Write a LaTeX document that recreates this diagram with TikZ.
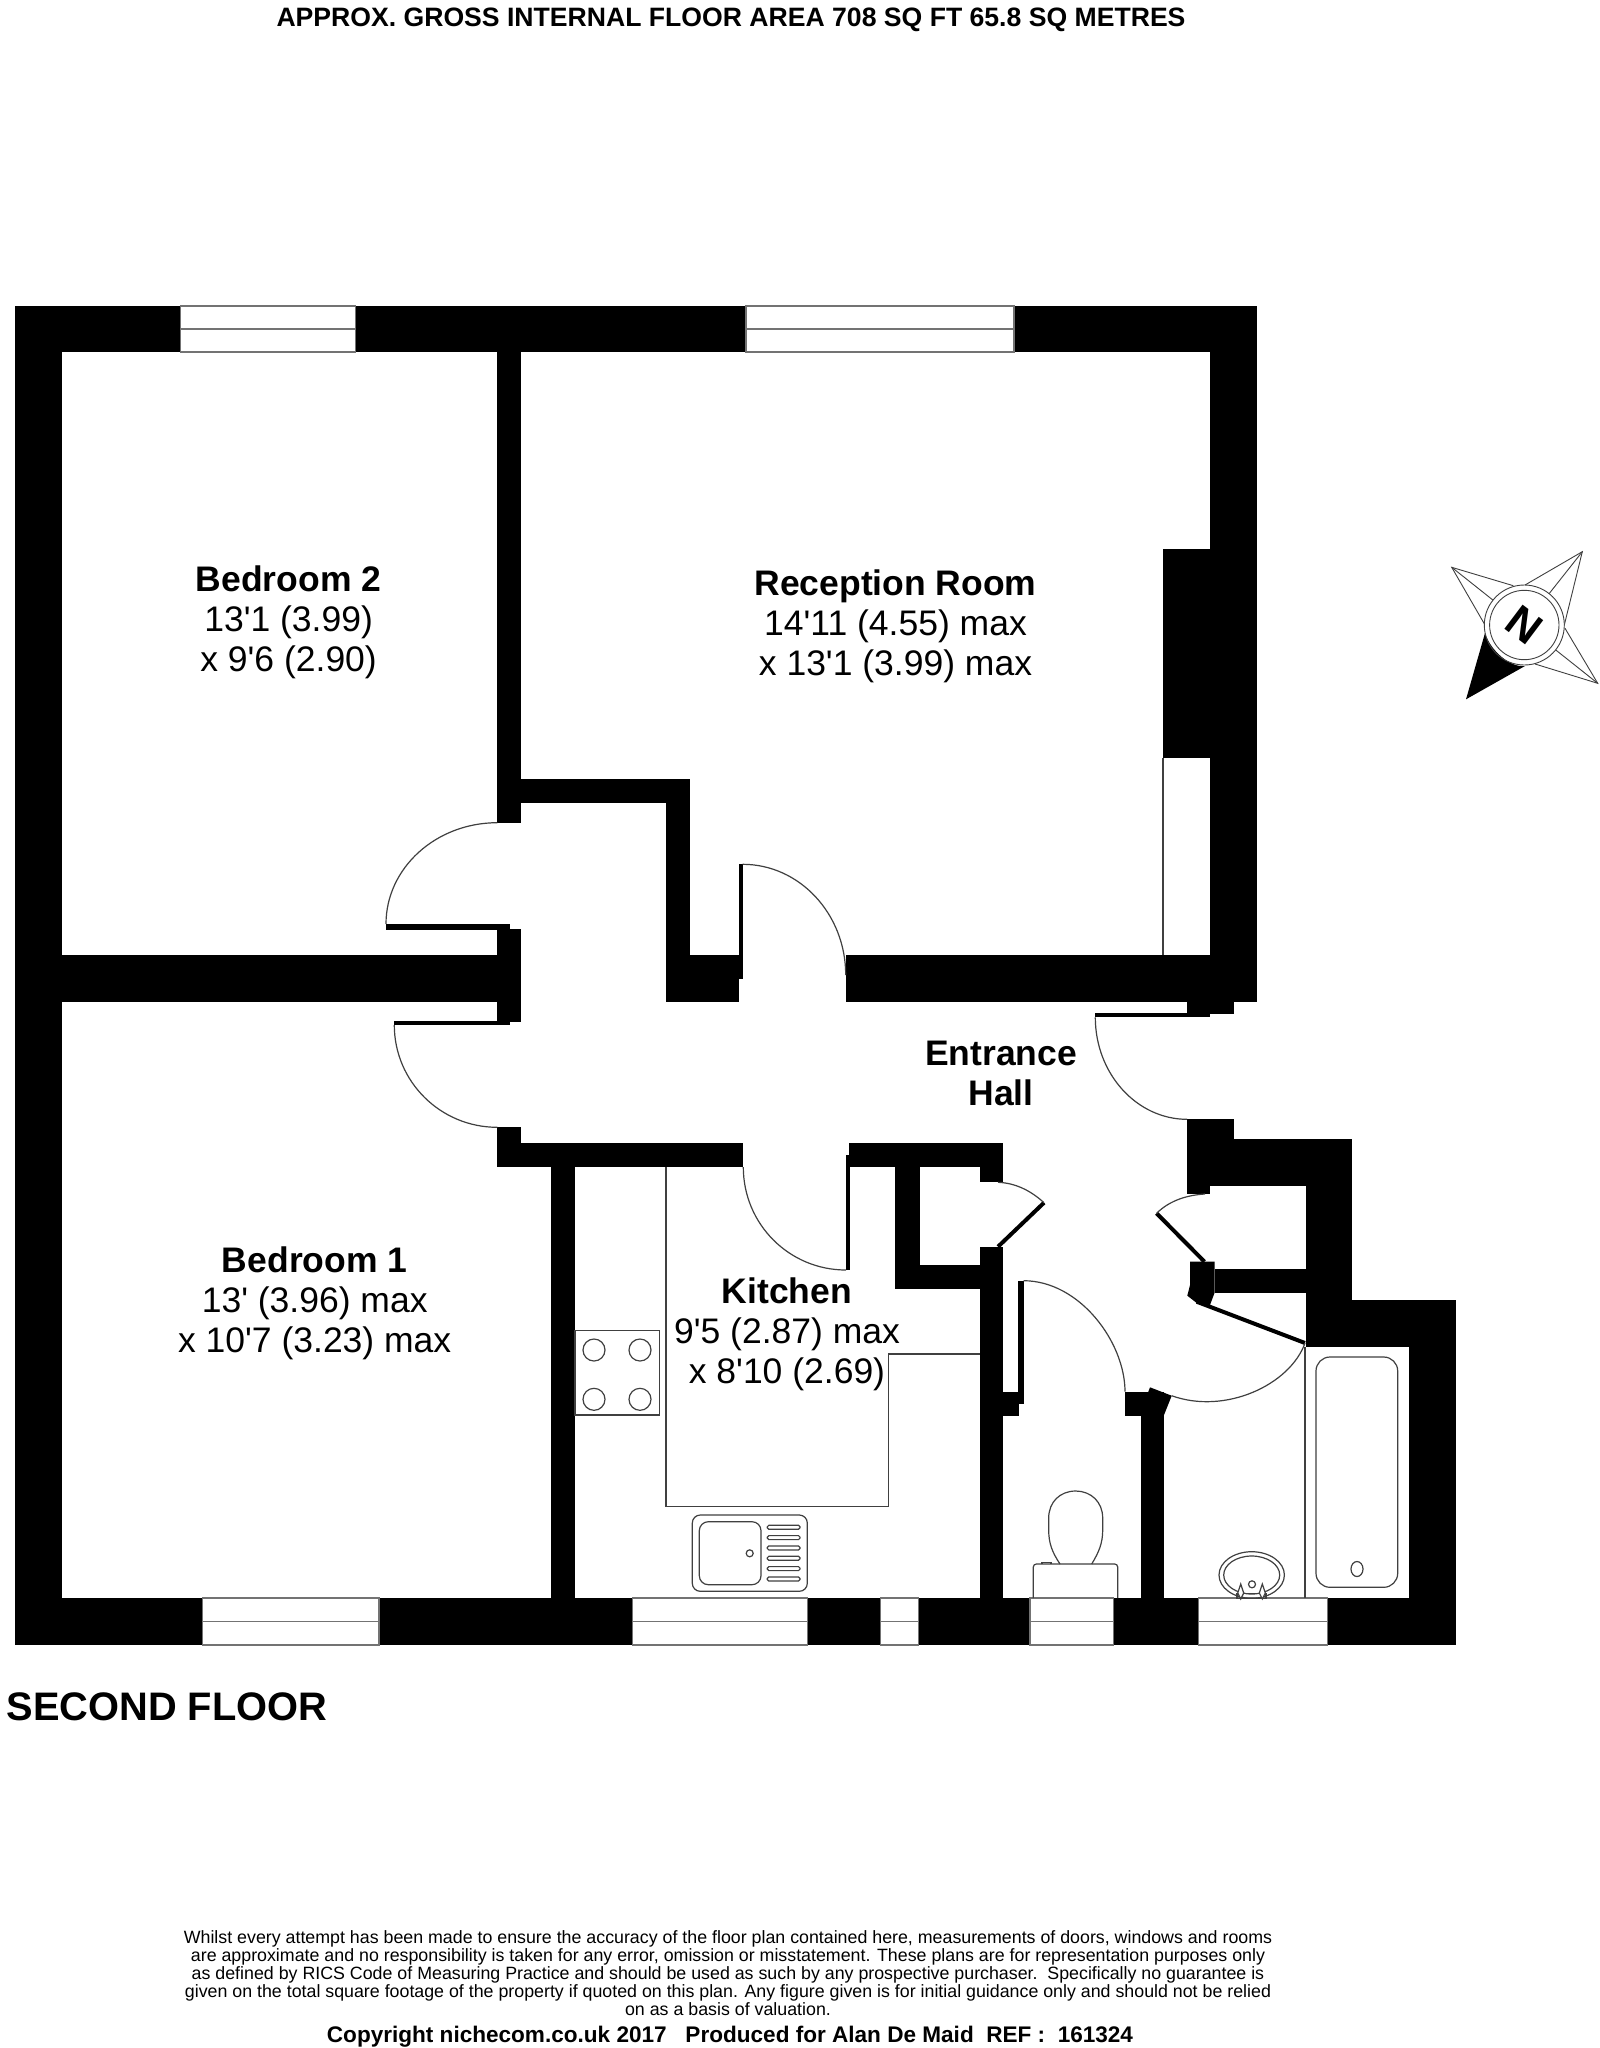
\documentclass[tikz,border=0pt]{standalone}
\usepackage{fontspec}
\setmainfont{Liberation Sans}[Ligatures=TeXOff]
\usetikzlibrary{positioning}
\tikzset{
    wall/.style={fill=black},
    thinline/.style={draw=black!75, line width=1.2pt},
    window/.style={fill=white, draw=black!55, line width=1.2pt},
    roomlabel/.style={align=center, inner sep=0pt, font=\fontsize{35.5}{40}\selectfont},
    smallprint/.style={align=center, inner sep=0pt, font=\fontsize{17.8}{17.9}\selectfont}
}

\begin{document}
\begin{tikzpicture}[x=1pt, y=-1pt]
    \useasboundingbox (0,0) rectangle (1599,2048);
    \fill[white] (0,0) rectangle (1599,2048);

    % walls
    \foreach \xa/\ya/\xb/\yb in {14.5/306/1256.6/352, 14.5/306/61.5/1645, 14.5/1598/1456/1645,
        1210/306/1256.6/1002.3, 1163/548.7/1210/758, 497.3/352/521/822.7,
        521/779.3/689.7/803.3, 665.7/779.3/689.7/1002.3, 665.7/955.3/739.3/1002.3,
        739.3/864.3/742.7/979.3, 61.5/955.3/521/1002.3, 497.3/929/521/1021.7,
        386/924/510/929.7, 394.3/1020.7/510/1025, 845.7/955.3/1210/1002.3,
        1186.9/1002/1233.6/1014, 1186.9/1002/1210.3/1017.3, 1095.3/1013/1210.3/1017.3,
        1186.9/1119.3/1233.6/1139.3, 1186.9/1119.3/1210.3/1194, 1186.9/1139.3/1352/1186,
        1305.7/1139.3/1352/1346.7, 1305.7/1300/1456/1346.7, 1409/1300/1456/1645,
        1214.5/1269.3/1305.7/1292.7,
        497.3/1127.3/521/1167.3, 497.3/1142.7/743.3/1167.3, 550.7/1142.7/575/1598,
        849/1143.3/1003.4/1167.3, 846/1155/850/1270,
        895.3/1143.3/919.5/1289.3, 895.3/1265/979.6/1289.3, 979.6/1143.3/1003.4/1182.3,
        979.6/1246.7/1003.4/1598,
        1018.3/1280.7/1023.5/1404, 1003.4/1391.7/1023.5/1404, 1003.4/1391.7/1018.5/1415.7,
        1125/1391.7/1148.3/1415.7, 1140.7/1391.7/1164/1598}
        \fill[wall] (\xa,\ya) rectangle (\xb,\yb);
    \fill[wall] (1148.3,1391.7) -- (1150,1387.3) -- (1171.7,1395.7) -- (1164,1415) -- cycle;
    \fill[wall] (1190,1261.7) -- (1214.5,1261.7) -- (1214.5,1293) -- (1210,1305) -- (1196.7,1303)
        -- (1187.3,1295.7) -- (1190,1285) -- cycle;

    % door leaves on the slant
    \draw[line width=4pt] (1196.7,1301.7) -- (1305,1343);
    \draw[line width=4pt] (998,1246.7) -- (1044,1202.7);
    \draw[line width=4pt] (1204.5,1261.7) -- (1156.6,1213.3);

    % door swings
    \draw[thinline] (386,924) .. controls (386,868) and (435.9,822.7) .. (497.3,822.7);
    \draw[thinline] (394.3,1025) .. controls (394.3,1081.5) and (440.4,1127.3) .. (497.3,1127.3);
    \draw[thinline] (742.7,864.3) .. controls (799.6,864.3) and (845.7,914) .. (845.7,975);
    \draw[thinline] (743.3,1167) .. controls (743.3,1224) and (789,1270) .. (846,1270);
    \draw[thinline] (1095.3,1017.3) .. controls (1095.3,1074) and (1137,1119.3) .. (1187,1119.3);
    \draw[thinline] (1023.5,1280.7) .. controls (1079.5,1280.7) and (1125,1342) .. (1125,1391.7);
    \draw[thinline] (1044,1202.7) .. controls (1030,1190) and (1015,1183) .. (998,1182.3);
    \draw[thinline] (1156.6,1213.3) .. controls (1170,1200) and (1188,1195) .. (1205,1194);
    \draw[thinline] (1305,1343) .. controls (1290,1385) and (1225,1415) .. (1171.7,1395.7);

    % windows
    \foreach \xa/\xb in {202.5/379, 632.3/807.3, 880.7/918.3, 1030/1113.3, 1198.3/1327.3} {
        \draw[window] (\xa,1598) rectangle (\xb,1645);
        \draw[window] (\xa,1621.3) -- (\xb,1621.3);
    }
    \foreach \xa/\xb in {180.7/355.7, 746/1014} {
        \draw[window] (\xa,306) rectangle (\xb,352);
        \draw[window] (\xa,329) -- (\xb,329);
    }
    \draw[thinline] (1163,758) -- (1163,955.3);

    % kitchen
    \draw[thinline] (666,1167.3) -- (666,1506.7) -- (888.7,1506.7) -- (888.7,1354) -- (980,1354);
    \draw[thinline] (575,1330.7) rectangle (659.3,1415);
    \foreach \cx/\cy in {594/1350, 640/1350, 594/1399.3, 640/1399.3}
        \draw[thinline] (\cx,\cy) circle (11);
    \draw[thinline, rounded corners=8pt] (692.3,1515) rectangle (807.3,1591.3);
    \draw[thinline, rounded corners=9pt] (699.3,1521.7) rectangle (761,1584.7);
    \draw[thinline] (749.7,1553.3) circle (3.5);
    \foreach \sy in {1527.3, 1537.6, 1547.9, 1558.3, 1568.6, 1579}
        \draw[thinline, rounded corners=1.5pt] (767.3,\sy-2) rectangle (800,\sy+2);

    % wc
    \draw[thinline, rounded corners=3pt] (1033.3,1598) -- (1033.3,1564) -- (1117.7,1564) -- (1117.7,1598);
    \draw[thinline] (1060,1564) .. controls (1052,1552) and (1048.7,1543) .. (1048.7,1530)
        -- (1048.7,1518) .. controls (1048.7,1502) and (1060,1491) .. (1075.7,1491)
        .. controls (1091,1491) and (1102.7,1502) .. (1102.7,1518) -- (1102.7,1530)
        .. controls (1102.7,1543) and (1099,1552) .. (1091.7,1564);
    \draw[thinline] (1042,1564) -- (1042,1562.5) -- (1051,1562.5) -- (1051,1564);

    % bath and basin
    \draw[thinline] (1305,1346.7) -- (1305,1598);
    \draw[thinline, rounded corners=14pt] (1316,1357) rectangle (1397.7,1587.3);
    \draw[thinline] (1357,1569) ellipse (6 and 7.5);
    \begin{scope}
        \clip (1200,1530) rectangle (1300,1598);
        \draw[thinline] (1251.7,1575) ellipse (32.7 and 23.3);
        \draw[thinline] (1251.7,1575) ellipse (28 and 19);
    \end{scope}
    \draw[thinline] (1252,1584.3) circle (3.5);
    \draw[thinline] (1237,1593.3) rectangle (1266,1598.5);
    \foreach \tx in {1240.7, 1262.3}
        \draw[thinline, fill=white] (\tx,1584) -- (\tx+3,1593) -- (\tx,1599) -- (\tx-3,1593) -- cycle;

    % compass
    \foreach \tipx/\tipy/\ax/\ay/\bx/\by in {1451.7/567.3/1513.3/585.7/1485/625,
        1582.3/551.7/1525/585/1564.3/625, 1597.7/683.3/1565/628.3/1535/664} {
        \draw[thinline, line width=0.9pt] (\ax,\ay) -- (\tipx,\tipy) -- (\bx,\by);
        \draw[thinline, line width=0.9pt] (\tipx,\tipy) -- (1524.3,625);
    }
    \fill[white] (1524.3,625) circle (40);
    \fill[black] (1466,699.3) -- (1485,633) .. controls (1490,650) and (1510,668) .. (1525,666) -- cycle;
    \draw[thinline, line width=0.9pt] (1524.3,625) circle (40);
    \draw[thinline, line width=0.9pt, fill=white] (1524.3,625) circle (34.7);
    \node[rotate=-37, inner sep=0pt, font=\fontsize{44}{44}\selectfont\bfseries] (north) at (1524.3,625) {N};

    % labels
    \node[roomlabel] (bedroomtwo) at (288.6,622) {\textbf{Bedroom 2}\\13'1 (3.99)\\x 9'6 (2.90)};
    \node[roomlabel] (reception) at (895.5,626) {\textbf{Reception Room}\\14'11 (4.55) max\\x 13'1 (3.99) max};
    \node[roomlabel] (bedroomone) at (314.7,1303) {\textbf{Bedroom 1}\\13' (3.96) max\\x 10'7 (3.23) max};
    \node[roomlabel] (kitchen) at (787,1334) {\textbf{Kitchen}\\9'5 (2.87) max\\x 8'10 (2.69)};
    \node[roomlabel] (hall) at (1001,1073) {\textbf{Entrance}\\\textbf{Hall}};

    \node[inner sep=0pt, font=\fontsize{26.6}{26.6}\selectfont\bfseries] (areatitle) at (731,20) {APPROX. GROSS INTERNAL FLOOR AREA 708 SQ FT 65.8 SQ METRES};
    \node[inner sep=0pt, anchor=west, font=\fontsize{39.8}{40}\selectfont\bfseries] (floorname) at (6.5,1707) {SECOND FLOOR};
    \node[smallprint] (disclaimer) at (728,1973) {Whilst every attempt has been made to ensure the accuracy of the floor plan contained here, measurements of doors, windows and rooms\\
        are approximate and no responsibility is taken for any error, omission or misstatement. These plans are for representation purposes only\\
        as defined by RICS Code of Measuring Practice and should be used as such by any prospective purchaser.\ \ Specifically no guarantee is\\
        given on the total square footage of the property if quoted on this plan. Any figure given is for initial guidance only and should not be relied\\
        on as a basis of valuation.};
    \node[inner sep=0pt, font=\fontsize{22.56}{23}\selectfont\bfseries] (copyright) at (730,2036.5) {Copyright nichecom.co.uk 2017 \ \ Produced for Alan De Maid \ REF :\ \ 161324};
\end{tikzpicture}
\end{document}
